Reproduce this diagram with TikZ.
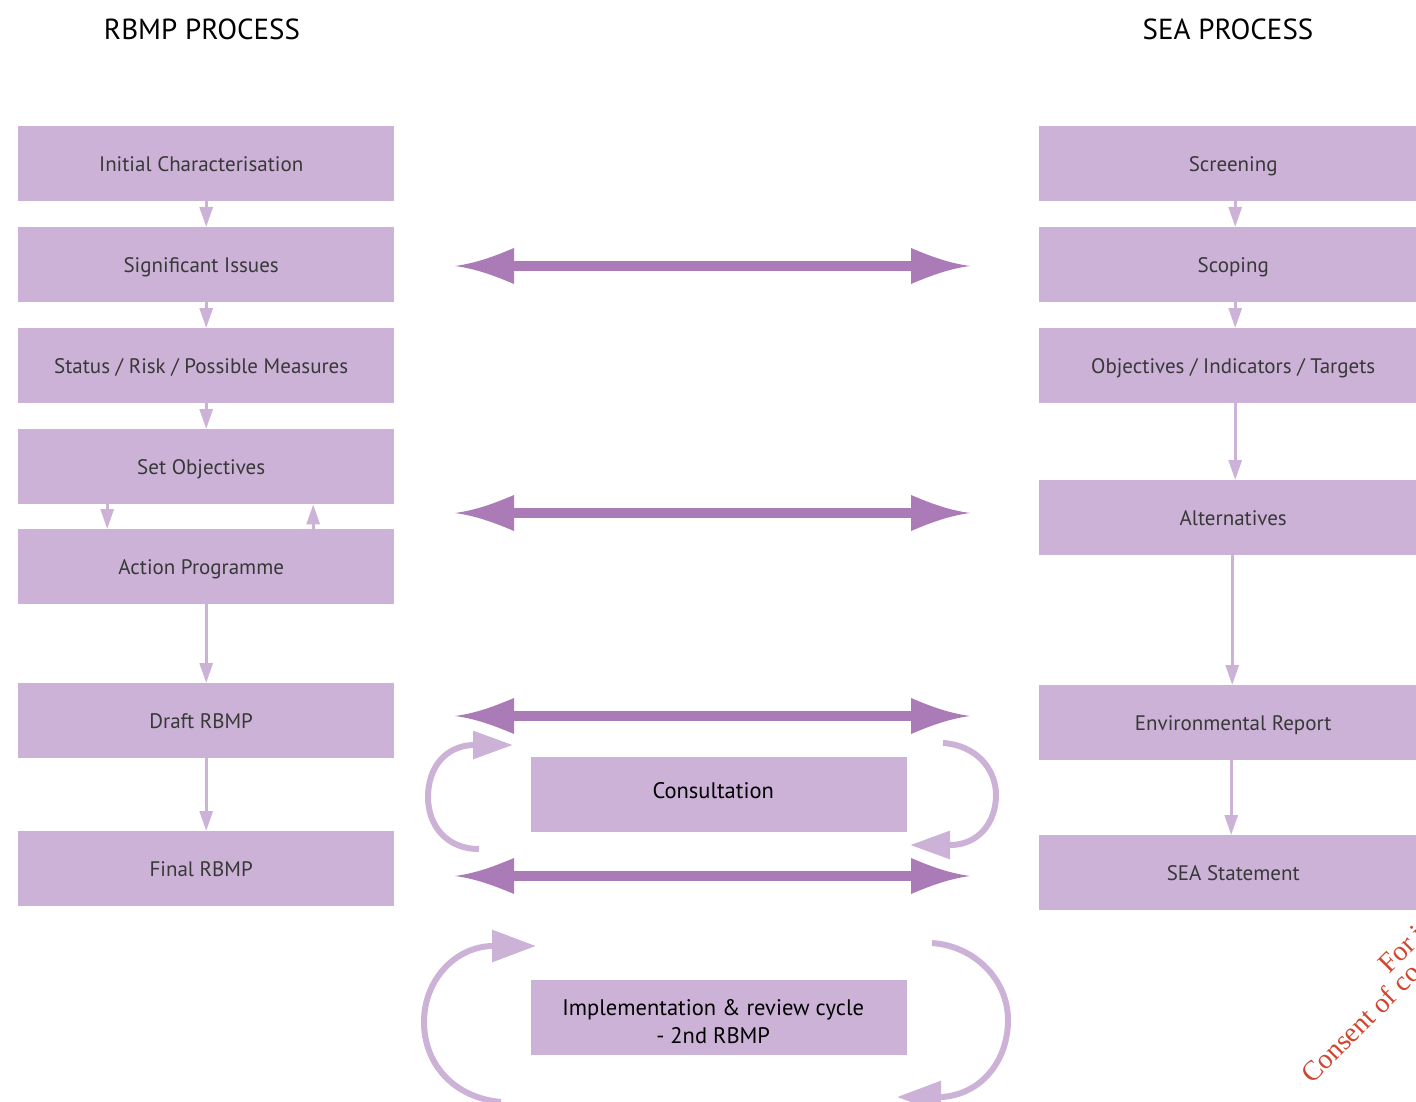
\documentclass[tikz,border=0pt]{standalone}
\usepackage{fontspec}
\setmainfont{PT Sans}
\newfontfamily\wmfont{Liberation Serif}
\usetikzlibrary{arrows.meta}
\definecolor{boxc}{HTML}{CCB2D7}
\definecolor{bigc}{HTML}{AB7BB7}
\definecolor{txtc}{HTML}{383838}
\definecolor{wmc}{HTML}{D2452E}
\begin{document}
\begin{tikzpicture}[x=1pt,y=-1pt,
  lbox/.style={fill=boxc, draw=none, minimum width=376pt, minimum height=75pt, inner sep=0pt,
    font=\fontsize{21}{25}\selectfont, text=txtc, anchor=north west, text height=18pt, text depth=3pt},
  lboxs/.style={lbox, execute at begin node={\hspace*{-10pt}}},
  rbox/.style={lbox, minimum width=388pt},
  mbox/.style={fill=boxc, draw=none, minimum width=376pt, minimum height=75pt, inner sep=0pt,
    anchor=north west, text=black, align=center, font=\fontsize{22.5}{28}\selectfont},
  title/.style={font=\fontsize{29}{32}\selectfont, text=black},
  small/.style={draw=boxc, line width=3pt, -{Triangle[length=20pt,width=13pt]}},
  bigshaft/.style={draw=bigc, line width=10pt},
  curv/.style={draw=boxc, line width=6pt, -{Triangle[length=40pt,width=27pt]}},
  curvb/.style={draw=boxc, line width=6pt, -{Triangle[length=44pt,width=31pt]}},
  wm/.style={font=\wmfont\fontsize{28}{30}\selectfont, text=wmc, rotate=45, anchor=base west, inner sep=0pt},
  bighead/.pic={\fill[bigc] (0,0) .. controls (22,-3) and (40,-10) .. (59,-18) -- (59,18) .. controls (40,10) and (22,3) .. (0,0) -- cycle;}
]
\useasboundingbox (0,0) rectangle (1416,1102);

% titles
\node[title] (t1) at (202,29) {RBMP PROCESS};
\node[title] (t2) at (1228,29) {SEA PROCESS};

% left column
\node[lboxs] (l1) at (18,126) {Initial Characterisation};
\node[lboxs] (l2) at (18,227) {Significant Issues};
\node[lboxs] (l3) at (18,328) {Status / Risk / Possible Measures};
\node[lboxs] (l4) at (18,429) {Set Objectives};
\node[lboxs] (l5) at (18,529) {Action Programme};
\node[lboxs] (l6) at (18,683) {Draft RBMP};
\node[lboxs] (l7) at (18,831) {Final RBMP};

% right column
\node[rbox] (r1) at (1039,126) {Screening};
\node[rbox] (r2) at (1039,227) {Scoping};
\node[rbox] (r3) at (1039,328) {Objectives / Indicators / Targets};
\node[rbox] (r4) at (1039,480) {Alternatives};
\node[rbox] (r5) at (1039,685) {Environmental Report};
\node[rbox] (r6) at (1039,835) {SEA Statement};

% middle
\node[mbox] (m1) at (531,757) {\hspace*{-12pt}\raisebox{8pt}{Consultation}};
\node[mbox, label={[align=center, text=black, font=\fontsize{22.5}{28}\selectfont, xshift=-6pt, yshift=-4pt]center:Implementation \& review cycle\\- 2nd RBMP}] (m2) at (531,980) {};

% small arrows left
\draw[small] (l1.south) -- (l2.north);
\draw[small] (l2.south) -- (l3.north);
\draw[small] (l3.south) -- (l4.north);
\draw[small] ([xshift=-99pt]l4.south) -- ([xshift=-99pt]l5.north);
\draw[small] ([xshift=107pt]l5.north) -- ([xshift=107pt]l4.south);
\draw[small] (l5.south) -- (l6.north);
\draw[small] (l6.south) -- (l7.north);

% small arrows right
\draw[small] ([xshift=2pt]r1.south) -- ([xshift=2pt]r2.north);
\draw[small] ([xshift=2pt]r2.south) -- ([xshift=2pt]r3.north);
\draw[small] ([xshift=2pt]r3.south) -- ([xshift=2pt]r4.north);
\draw[small] ([xshift=-1pt]r4.south) -- ([xshift=-1pt]r5.north);
\draw[small] ([xshift=-2pt]r5.south) -- ([xshift=-2pt]r6.north);

% big double arrows
\foreach \i/\y in {1/266,2/513,3/716,4/876}{
  \coordinate (bl\i) at (455,\y);
  \coordinate (br\i) at (970,\y);
  \draw[bigshaft] ([xshift=55pt]bl\i) -- ([xshift=-55pt]br\i);
  \pic at (bl\i) {bighead};
  \pic[rotate=180] at (br\i) {bighead};
}

% curved arrows around Consultation
\coordinate (ca) at (479,849);
\coordinate (cb) at (513,745);
\draw[curv] (ca) .. controls (446,849) and (428,825) .. (428,797)
  .. controls (428,768) and (445,746) .. (473,745) -- (cb);
\coordinate (cc) at (943,743);
\coordinate (cd) at (910,845);
\draw[curv] (cc) .. controls (975,745) and (996,768) .. (996,795)
  .. controls (996,823) and (978,845) .. (950,845) -- (cd);

% curved arrows around Implementation
\coordinate (ia) at (501,1102);
\coordinate (ib) at (536,946);
\draw[curvb] (ia) .. controls (455,1098) and (424,1065) .. (424,1022)
  .. controls (424,980) and (455,947) .. (492,946) -- (ib);
\coordinate (ic) at (932,943);
\coordinate (id) at (897,1097);
\draw[curvb] (ic) .. controls (975,946) and (1008,980) .. (1008,1020)
  .. controls (1008,1062) and (980,1095) .. (941,1097) -- (id);

% watermark (cut off by the page edge)
\node[wm] (w1) at (1389,975) {For i};
\node[wm] (w2) at (1312,1085) {Consent of co};
\end{tikzpicture}
\end{document}
